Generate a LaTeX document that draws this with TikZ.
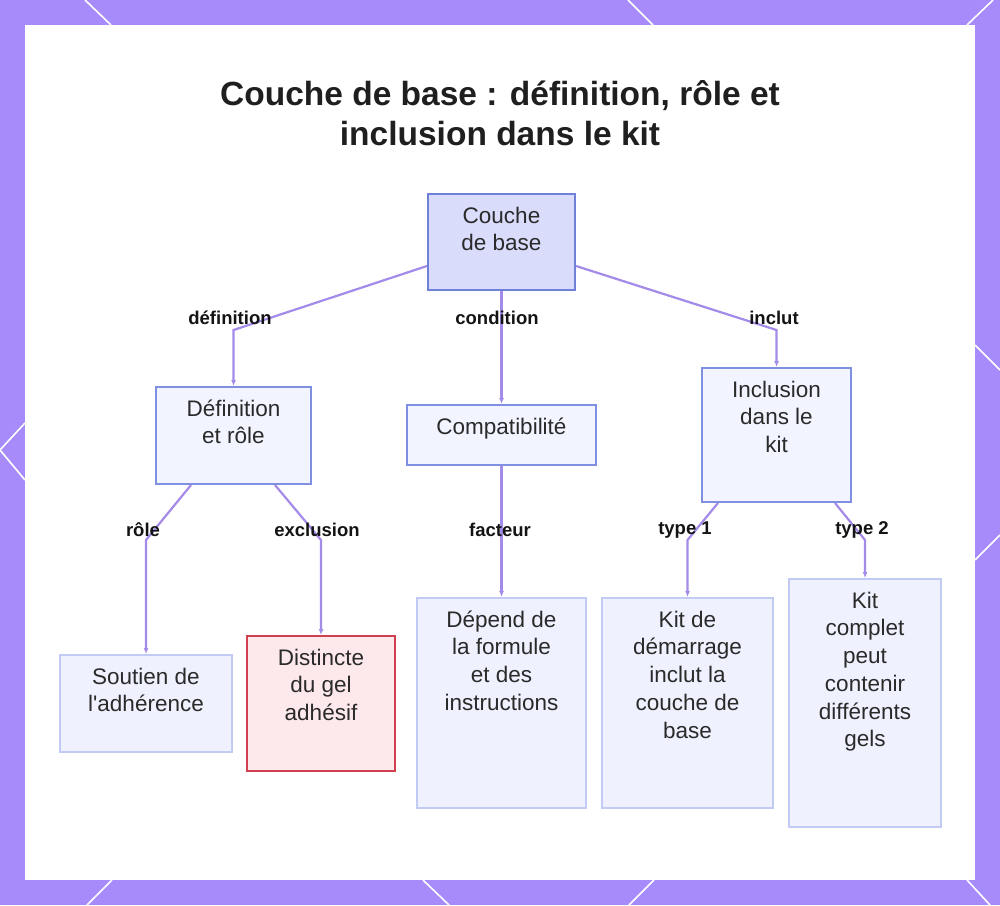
\documentclass[tikz,border=0pt]{standalone}
\usepackage{fontspec}
\setmainfont{Liberation Sans}[Ligatures=TeXOff]
\usetikzlibrary{arrows.meta}
\definecolor{frame}{HTML}{A78BFA}
\definecolor{edgec}{HTML}{A48BEA}
\definecolor{txt}{HTML}{2A2A2A}
\definecolor{rootfill}{HTML}{D9DCFB}
\definecolor{rootdraw}{HTML}{6F80D8}
\definecolor{midfill}{HTML}{F2F4FF}
\definecolor{middraw}{HTML}{7F90E0}
\definecolor{leaffill}{HTML}{EFF2FE}
\definecolor{leafdraw}{HTML}{C2CBF4}
\definecolor{redfill}{HTML}{FDE8EC}
\definecolor{reddraw}{HTML}{D0404F}
\newcommand\fl{\rule{0pt}{17pt}}
\begin{document}
\begin{tikzpicture}[x=1pt,y=-1pt,
  box/.style={anchor=north west, inner sep=0pt, line width=2pt},
  rootbox/.style={box, fill=rootfill, draw=rootdraw},
  midbox/.style={box, fill=midfill, draw=middraw},
  leafbox/.style={box, fill=leaffill, draw=leafdraw},
  redbox/.style={box, fill=redfill, draw=reddraw},
  boxtext/.style={anchor=north, inner sep=0pt, align=center, text=txt,
    font=\fontsize{22.5}{27.7}\selectfont},
  elabel/.style={inner sep=0pt, text=black!92, font=\bfseries\fontsize{18.5}{20}\selectfont},
  edge/.style={draw=edgec, line width=2.2pt, -{Latex[length=6pt,width=5pt]}},
  deco/.style={draw=white, line width=1.6pt}
]
\useasboundingbox (0,0) rectangle (1000,905);
\fill[frame] (0,0) rectangle (1000,905);
\fill[white] (25,25) rectangle (975,880);
% border decorations
\draw[deco] (85,0) -- (111,25);
\draw[deco] (628,0) -- (653,25);
\draw[deco] (993,0) -- (967,25);
\draw[deco] (25,423) -- (0,450) -- (25,480);
\draw[deco] (975,345) -- (1000,370);
\draw[deco] (975,560) -- (1000,535);
\draw[deco] (112,880) -- (87,905);
\draw[deco] (423,880) -- (449,905);
\draw[deco] (654,880) -- (629,905);
\draw[deco] (967,880) -- (990,905);

% title
\node[font=\bfseries\fontsize{33.5}{40}\selectfont, align=center, text=black!88] (title)
  at (500,113) {Couche de base : définition, rôle et\\inclusion dans le kit};

% boxes
\node[rootbox, minimum width=147pt, minimum height=96pt] (root) at (427,193) {};
\node[midbox, minimum width=155pt, minimum height=97pt] (def) at (155,386) {};
\node[midbox, minimum width=189pt, minimum height=60pt] (comp) at (406,404) {};
\node[midbox, minimum width=149pt, minimum height=134pt] (incl) at (701,367) {};
\node[leafbox, minimum width=172pt, minimum height=97pt] (sout) at (59,654) {};
\node[redbox, minimum width=148pt, minimum height=135pt] (dist) at (246,635) {};
\node[leafbox, minimum width=169pt, minimum height=210pt] (dep) at (416,597) {};
\node[leafbox, minimum width=171pt, minimum height=210pt] (kitd) at (601,597) {};
\node[leafbox, minimum width=152pt, minimum height=248pt] (kitc) at (788,578) {};

% box texts
\node[boxtext] (roott) at ([yshift=-13pt]root.north) {\fl Couche\\de base};
\node[boxtext] (deft) at ([yshift=-13pt]def.north) {\fl Définition\\et rôle};
\node[boxtext] (compt) at ([yshift=-13pt]comp.north) {\fl Compatibilité};
\node[boxtext] (inclt) at ([yshift=-13pt]incl.north) {\fl Inclusion\\dans le\\kit};
\node[boxtext] (soutt) at ([yshift=-13pt]sout.north) {\fl Soutien de\\l'adhérence};
\node[boxtext] (distt) at ([yshift=-13pt]dist.north) {\fl Distincte\\du gel\\adhésif};
\node[boxtext] (dept) at ([yshift=-13pt]dep.north) {\fl Dépend de\\la formule\\et des\\instructions};
\node[boxtext] (kitdt) at ([yshift=-13pt]kitd.north) {\fl Kit de\\démarrage\\inclut la\\couche de\\base};
\node[boxtext] (kitct) at ([yshift=-13pt]kitc.north) {\fl Kit\\complet\\peut\\contenir\\différents\\gels};

% connectors
\draw[edge] ([yshift=-73pt]root.north west) -- (def.north |- 0,330) -- (def.north);
\draw[edge] (root.south) -- (comp.north);
\draw[edge] ([yshift=-73pt]root.north east) -- (incl.north |- 0,330) -- (incl.north);
\draw[edge] ([xshift=36pt]def.south west) -- (sout.north |- 0,540) -- (sout.north);
\draw[edge] ([xshift=-37pt]def.south east) -- (dist.north |- 0,540) -- (dist.north);
\draw[edge] (comp.south) -- (dep.north);
\draw[edge] ([xshift=17pt]incl.south west) -- (kitd.north |- 0,540) -- (kitd.north);
\draw[edge] ([xshift=-17pt]incl.south east) -- (kitc.north |- 0,540) -- (kitc.north);

% connector labels
\node[elabel] (l1) at (230,318) {définition};
\node[elabel] (l2) at (497,318) {condition};
\node[elabel] (l3) at (774,318) {inclut};
\node[elabel] (l4) at (143,530) {rôle};
\node[elabel] (l5) at (317,530) {exclusion};
\node[elabel] (l6) at (500,530) {facteur};
\node[elabel] (l7) at (685,530) {type 1};
\node[elabel] (l8) at (862,530) {type 2};
\end{tikzpicture}
\end{document}
